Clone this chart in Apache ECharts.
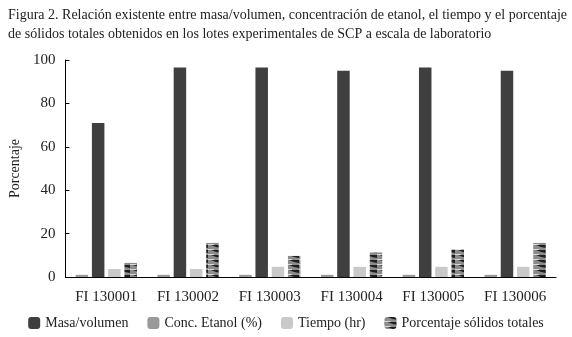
<!DOCTYPE html>
<html>
<head>
<meta charset="utf-8">
<script src="https://cdn.jsdelivr.net/npm/echarts@6/dist/echarts.min.js"></script>
<style>
html,body{margin:0;padding:0;background:#fff;}
#chart{width:572px;height:337px;}
</style>
</head>
<body>
<div id="chart"></div>
<script>
var categories = ['FI 130001', 'FI 130002', 'FI 130003', 'FI 130004', 'FI 130005', 'FI 130006'];
var masaVolumen = [71, 96.5, 96.5, 95, 96.5, 95];
var concEtanol = [1, 1, 1, 1, 1, 1];
var tiempoHr = [3.7, 3.7, 4.7, 4.7, 4.7, 4.7];
var solidosTotales = [6.5, 15.7, 9.7, 11.3, 12.7, 15.7];
var yTicks = [0, 20, 40, 60, 80, 100];

var FONT = '"Liberation Serif", "DejaVu Serif", serif';

// striped fill for the "solidos" bars
function makeStripes() {
    var c = document.createElement('canvas');
    c.width = 13; c.height = 5;
    var ctx = c.getContext('2d');
    ctx.fillStyle = '#8c8c8c';
    ctx.fillRect(0, 0, 13, 5);
    ctx.fillStyle = '#1e1e1e';
    ctx.beginPath();
    ctx.moveTo(3, 0); ctx.lineTo(13, 0); ctx.lineTo(13, 3); ctx.lineTo(8, 2); ctx.closePath();
    ctx.fill();
    ctx.fillStyle = '#d8d8d8';
    ctx.fillRect(0, 4, 6, 1);
    return c;
}
var stripes = makeStripes();

var chart = echarts.init(document.getElementById('chart'));
chart.setOption({
    animation: false,
    title: {
        text: 'Figura 2. Relación existente entre masa/volumen, concentración de etanol, el tiempo y el porcentaje\nde sólidos totales obtenidos en los lotes experimentales de SCP a escala de laboratorio',
        left: 3, top: 1,
        textStyle: {fontFamily: FONT, fontSize: 14, fontWeight: 'normal', color: '#222', lineHeight: 19}
    },
    legend: {
        bottom: 2, left: 'center',
        itemWidth: 12, itemHeight: 12, itemGap: 19,
        data: ['Masa/volumen', 'Conc. Etanol (%)', 'Tiempo (hr)', 'Porcentaje sólidos totales'],
        textStyle: {fontFamily: FONT, fontSize: 14, color: '#222'}
    },
    grid: {left: 64, right: 16, top: 60, bottom: 60},
    xAxis: {
        type: 'category',
        data: categories,
        axisLine: {lineStyle: {color: '#000', width: 1}},
        axisTick: {inside: true, length: 4, lineStyle: {color: '#000'}},
        axisLabel: {fontFamily: FONT, fontSize: 15, color: '#222', margin: 13}
    },
    yAxis: {
        type: 'value',
        min: yTicks[0], max: yTicks[yTicks.length - 1], interval: 20,
        name: 'Porcentaje',
        nameLocation: 'middle', nameGap: 40,
        nameTextStyle: {fontFamily: FONT, fontSize: 14, color: '#222'},
        axisLine: {show: true, lineStyle: {color: '#000', width: 1}},
        axisTick: {show: true, inside: true, length: 4, lineStyle: {color: '#000'}},
        splitLine: {show: false},
        axisLabel: {fontFamily: FONT, fontSize: 15, color: '#222', margin: 10}
    },
    series: [
        {name: 'Conc. Etanol (%)', type: 'bar', data: concEtanol, barWidth: 12.5, barGap: '30%',
         itemStyle: {color: '#9a9a9a'}},
        {name: 'Masa/volumen', type: 'bar', data: masaVolumen, barWidth: 12.5, barGap: '30%',
         itemStyle: {color: '#3f3f3f'}},
        {name: 'Tiempo (hr)', type: 'bar', data: tiempoHr, barWidth: 12.5, barGap: '30%',
         itemStyle: {color: '#c9c9c9'}},
        {name: 'Porcentaje sólidos totales', type: 'bar', data: solidosTotales, barWidth: 12.5, barGap: '30%',
         itemStyle: {color: {image: stripes, repeat: 'repeat'}}}
    ]
});
</script>
</body>
</html>
